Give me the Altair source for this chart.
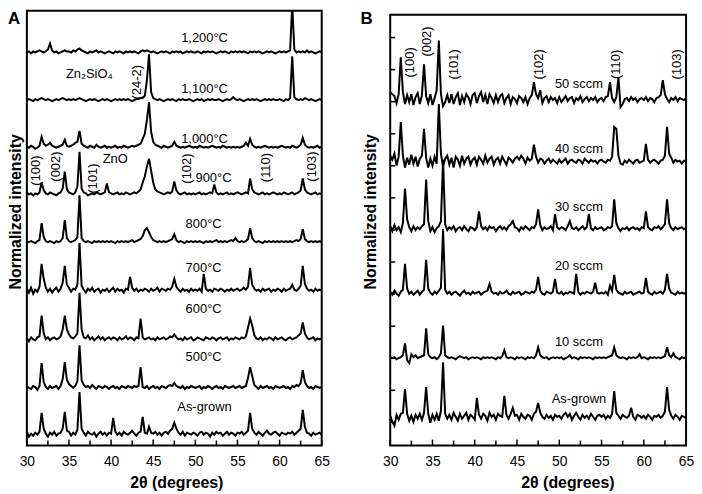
import altair as alt
import pandas as pd

FONT = "Liberation Sans"
H = 438           # plot height (px) = y-domain span
WA, WB = 297, 298  # plot widths

# 2-theta grid, 0.25 degree steps from 30 to 65
TWO_THETA = [30 + 0.25 * i for i in range(141)]

# ---------------- Panel A : annealing temperature ----------------
A_NAMES = ["1,200", "1,100", "1,000", "900", "800", "700", "600", "500", "As-grown"]
A_OFFSETS = [396, 348, 300, 253, 205, 156, 107, 58, 11]

A_1200 = [
    0, 1, -1, 1, 0, 1, 2, 1, 0, 1, 3, 9, 2, 0, 1, -1, 0, 1, 2, 1,
    1, 0, 2, 1, 3, 4, 2, 1, 0, -1, 1, 0, 1, 2, 0, 1, 0, -1, 0, 1,
    0, -1, 1, 0, 1, 0, -1, 1, 0, 1, 0, 1, 0, -1, 1, 2, 1, 2, 1, 0,
    1, 0, -1, 0, 1, 0, 1, 0, -1, 1, 0, 1, 0, 1, -1, 0, 1, 0, 1, 0,
    0, 1, 0, -1, 1, 0, 1, 0, 1, 0, -1, 0, 1, 0, 1, 0, -1, 1, 0, 1,
    0, 1, 0, 1, 0, -1, 1, 0, 1, 0, 1, 0, -1, 0, 1, 0, 1, 0, -1, 0,
    1, 0, 1, 0, 1, 2, 48, 3, 0, 1, 0, 1, 0, 2, 0, 1, 0, -1, 0, 1,
    0]
A_1100 = [
    0, 1, 0, -1, 1, 0, 1, 2, 1, 0, 1, 0, -1, 0, 1, 0, 1, 2, 1, 0,
    1, 0, 1, 0, 1, 2, 1, 0, -1, 0, 1, 0, 1, 0, -1, 0, 1, 0, 1, 0,
    -1, 0, 1, 0, 1, 0, 1, 0, 1, 0, -1, 0, 1, 1, 2, 2, 4, 20, 46, 8,
    2, 1, 0, 1, 0, -1, 0, 1, 0, 1, 0, -1, 1, 0, 1, 0, 0, 1, 0, -1,
    0, 1, 0, 1, -1, 0, 1, 0, 1, 0, 0, 1, 0, -1, 0, 1, 0, 1, 3, 1,
    0, 1, 0, -1, 0, 1, 0, 1, 0, 1, 0, -1, 0, 1, 0, 1, 0, 1, 0, 0,
    1, 0, -1, 1, 0, 2, 44, 3, 1, 0, 1, 0, 2, 1, 0, 1, 0, -1, 0, 1,
    0]
A_1000 = [
    1, 0, 2, 1, -1, 0, 2, 11, 4, 2, 3, 5, 2, 1, 0, 1, 2, 3, 8, 2,
    1, 2, 3, 5, 6, 17, 4, 2, 1, 0, 2, 1, 0, 3, 1, 0, 1, 2, 0, 1,
    0, 1, 2, 0, 1, 0, 2, 1, 0, 1, 2, 1, 2, 3, 4, 9, 14, 28, 46, 16,
    6, 3, 2, 1, 0, 2, 1, 0, 1, 2, 6, 2, 1, 0, 1, 0, 1, 2, 1, 0,
    1, 0, 2, 1, 0, 1, 0, 1, 2, 1, 0, 1, 0, 2, 1, 0, 1, 0, 1, 0,
    1, 0, 1, 2, 5, 2, 9, 3, 1, 0, 1, 0, 1, 2, 1, 0, 1, 0, 1, 0,
    1, 2, 1, 0, 1, 0, 2, 1, 0, 1, 3, 10, 3, 1, 0, 1, 0, 1, 2, 0,
    1]
A_900 = [
    2, 0, 1, -1, 1, 0, 2, 12, 4, 1, 0, 2, 1, 0, -1, 1, 2, 6, 23, 5,
    2, 1, 0, 2, 8, 43, 6, 2, 1, -1, 0, 1, 0, 2, 1, 0, 1, 2, 11, 2,
    1, 0, 1, 2, 0, 1, 0, 2, 1, 0, 1, 2, 1, 3, 5, 12, 18, 28, 36, 24,
    12, 5, 3, 2, 1, 0, 1, 2, 1, 3, 13, 4, 1, 0, 1, 2, 0, 1, 0, 1,
    0, 1, 2, 0, 1, 0, 1, 2, 1, 10, 2, 0, 1, 0, 1, 2, 0, 1, 0, 1,
    2, 1, 0, 1, 2, 1, 16, 5, 2, 1, 0, 1, 2, 0, 1, 0, 1, 2, 1, 0,
    1, 0, 2, 1, 0, 1, 2, 0, 1, 2, 4, 16, 5, 2, 1, 0, 1, 2, 0, 1,
    0]
A_800 = [
    1, 0, 1, 0, -1, 1, 2, 19, 5, 1, 0, 1, 0, -1, 1, 0, 1, 4, 22, 4,
    1, 0, 1, 2, 5, 47, 4, 1, 0, 1, 0, -1, 1, 0, 1, 0, 1, 0, 1, 0,
    1, 0, -1, 1, 0, 1, 0, 1, 0, 1, 2, 0, 1, 2, 3, 6, 12, 14, 10, 5,
    2, 1, 0, 1, 0, 1, 0, 1, 2, 3, 8, 2, 0, 1, 0, -1, 1, 0, 1, 0,
    1, 0, 1, 0, -1, 1, 0, 1, 0, 1, 2, 0, 1, 0, 1, 0, 1, 2, 1, 4,
    1, 0, 1, 0, 1, 3, 14, 4, 1, 0, 1, 0, -1, 1, 0, 1, 0, 1, 0, 1,
    0, 1, 0, 1, 0, 1, 0, 1, 2, 1, 3, 13, 3, 1, 0, 1, 0, 1, 0, 1,
    0]
A_700 = [
    2, -2, 3, -3, 1, -1, 4, 27, 12, 3, -1, 2, -2, 1, 3, -1, 2, 8, 25, 6,
    3, -1, 2, 1, 6, 48, 5, 1, -2, 2, 0, 3, -1, 1, 2, -2, 1, 0, 2, -1,
    1, 3, -1, 2, 0, 1, -2, 2, 1, 14, 3, 0, 2, -1, 1, 0, 2, 1, -1, 2,
    0, 1, 3, -1, 2, 1, 0, 2, 1, 4, 12, 4, 1, -1, 2, 0, 1, -1, 2, 0,
    1, 0, 2, -1, 17, 2, 0, 1, -1, 2, 1, 0, 2, 1, -1, 1, 0, 2, 0, 1,
    2, 0, 1, 3, 1, 4, 23, 6, 2, 0, 1, -1, 2, 0, 1, 2, -1, 1, 0, 2,
    1, -1, 2, 0, 1, 2, 6, 1, 0, 2, 5, 25, 7, 2, 0, 1, -1, 2, 0, 1,
    0]
A_600 = [
    1, -2, 2, 0, -1, 2, 3, 24, 6, 0, 2, -1, 1, 2, 0, 1, 3, 10, 24, 10,
    5, 2, 1, 3, 6, 47, 10, 2, 1, 4, 0, 2, -1, 1, 3, 0, 2, -1, 1, 2,
    0, 2, 1, -1, 2, 0, 1, 3, 0, 2, 1, -1, 2, 1, 21, 2, 0, 1, 2, 0,
    1, -1, 2, 0, 1, 2, 0, 1, 3, 2, 5, 2, 0, 1, -1, 2, 0, 1, 2, -1,
    0, 2, 1, 0, -1, 2, 1, 0, 2, 1, -1, 1, 2, 0, 1, 2, -1, 1, 0, 2,
    1, 0, 2, 1, 3, 12, 21, 14, 4, 1, 0, 2, -1, 1, 0, 2, 1, -1, 2, 0,
    1, 2, 0, -1, 1, 2, 0, 1, 2, 4, 6, 17, 6, 2, 0, 1, 2, -1, 1, 0,
    1]
A_500 = [
    2, 0, -1, 2, 1, -2, 2, 25, 6, 1, -1, 2, 0, 1, 2, -1, 2, 9, 26, 8,
    4, 2, 0, 2, 7, 43, 8, 3, 1, 2, 0, 3, 1, -1, 2, 1, 0, 2, 1, -1,
    1, 2, 0, 1, -1, 2, 1, 0, 2, 1, 0, 2, 1, 2, 21, 1, 0, 2, -1, 1,
    2, 0, 1, -1, 2, 1, 0, 2, 3, 2, 5, 2, 1, 0, 2, -1, 1, 0, 2, 1,
    0, 1, 2, -1, 1, 0, 2, 1, -1, 1, 2, 0, 1, -1, 2, 1, 0, 1, 2, 0,
    1, 2, 0, 1, 2, 10, 21, 12, 3, 1, -1, 2, 0, 1, 2, 0, 1, -1, 2, 1,
    0, 1, 2, 0, 1, -1, 2, 1, 3, 2, 5, 18, 6, 2, 0, 1, -1, 2, 1, 0,
    1]
A_ASGROWN = [
    3, -2, 1, -1, 2, 0, 3, 22, 6, 1, -2, 2, 0, 3, -1, 1, 2, 6, 23, 4,
    3, -1, 2, 0, 5, 43, 6, 2, -1, 3, 1, 0, 2, -2, 1, 3, 0, 2, -1, 2,
    1, 17, 3, 0, 2, -1, 3, 1, 0, 2, 4, 1, -1, 2, 3, 18, 2, 1, 8, 2,
    1, 3, 0, 2, -1, 2, 3, 1, 4, 6, 12, 6, 2, 0, 3, -1, 2, 1, 0, 2,
    1, -1, 2, 3, 0, 2, 1, -2, 2, 0, 3, 1, 2, -1, 1, 3, 0, 2, 1, -1,
    2, 1, 3, 0, 2, 4, 22, 6, 2, 0, 3, 1, -1, 2, 4, 1, 0, 2, 3, 1,
    -1, 2, 1, 0, 2, 1, 3, 0, 2, 4, 6, 25, 8, 2, 1, -1, 2, 0, 1, 2,
    0]
A_TRACES = [A_1200, A_1100, A_1000, A_900, A_800, A_700, A_600, A_500, A_ASGROWN]

# ---------------- Panel B : gas flow ----------------
B_NAMES = ["50 sccm", "40 sccm", "30 sccm", "20 sccm", "10 sccm", "As-grown"]
B_OFFSETS = [348, 286, 218, 153, 88, 28]

B_50 = [
    8, 6, 4, -3, 6, 43, 8, -4, 5, -2, 6, -5, 3, 7, -4, 5, 36, 4, -3, 6,
    -5, 2, 10, 60, 6, -6, -2, 5, -3, 6, -4, 3, 7, -5, 4, -2, 6, 3, -4, 5,
    7, -3, 4, 8, -2, 5, -4, 6, 2, -3, 5, -2, 4, 6, -3, 2, 5, -4, 3, 1,
    -3, 4, 2, -2, 3, -4, 2, 5, 18, 6, 2, 10, -3, 2, 4, -2, 3, 0, 2, -3,
    3, -2, 1, 4, -1, 2, 3, -3, 2, 0, 4, -2, 1, 3, -1, 2, 0, 3, -2, 1,
    2, -1, 3, 4, 18, 2, -2, 3, 23, -7, -4, 1, 2, -1, 3, 0, 2, -2, 1, 2,
    0, 3, -1, 2, 1, -2, 2, 3, 5, 20, 6, 1, -2, 2, 0, 3, -1, 2, 1, 0,
    2]
B_40 = [
    6, 2, 8, -4, 5, 40, 6, -6, 4, -3, 7, -2, 5, -5, 3, 6, 33, 4, -6, 3,
    -4, 5, -2, 58, 8, -5, 3, 6, -3, 4, -6, 5, 2, -4, 6, -2, 3, 5, -3, 2,
    4, -3, 5, 2, -2, 6, -1, 3, 5, -3, 2, 4, -2, 5, 1, -3, 4, 2, -1, 3,
    5, 2, 6, 3, -2, 4, 1, 3, 17, 5, -1, 3, 2, -2, 1, 3, -1, 2, 0, -2,
    2, -1, 1, 3, -2, 1, 2, 0, -1, 2, 1, -2, 3, 1, -1, 2, 0, 1, -2, 1,
    2, 0, -1, 2, 1, 5, 35, 33, 6, -2, -3, 1, -1, 2, 0, -2, 1, 2, -1, 0,
    1, 18, 2, -1, 1, 2, 0, -2, 1, 2, 6, 35, 8, 4, -1, 2, 0, 1, -2, 1,
    0]
B_30 = [
    3, -2, 4, -1, 2, -3, 6, 41, 10, 2, -2, 3, -1, 2, 0, 3, 5, 50, 8, -2,
    2, -3, 1, 3, 8, 70, 5, -1, 2, 0, 3, -2, 1, 2, -1, 3, 0, -2, 2, 1,
    -1, 2, 18, 3, 0, 2, -1, 3, 1, 2, -2, 1, 3, 0, 2, -1, 3, 5, 8, 2,
    1, -2, 2, 0, 3, 1, -1, 2, 1, 5, 20, 4, -1, 2, 0, 1, 3, -1, 15, 2,
    0, 2, 1, -1, 3, 8, 1, 0, 2, -1, 1, 3, 0, 2, 15, 1, -1, 2, 0, 1,
    2, -1, 0, 2, 1, 3, 30, 6, 1, -2, 1, 0, 2, -1, 1, 2, 0, 1, -1, 2,
    1, 18, 2, 0, -1, 2, 1, 3, 0, 2, 5, 30, 6, 1, -1, 2, 0, 1, 2, 0,
    1]
B_20 = [
    2, -1, 3, 0, -2, 2, 4, 30, 5, 0, 2, -1, 1, 3, -1, 2, 4, 34, 5, 1,
    -1, 2, 0, 3, 6, 65, 4, 0, 2, -1, 1, 2, 0, -2, 1, 3, 0, 1, -1, 2,
    0, 1, 2, -1, 1, 2, 3, 10, 2, 0, 1, -1, 2, 0, 1, 3, 0, -1, 2, 0,
    1, 2, -1, 0, 2, 1, 0, 2, 1, 4, 17, 3, 0, -1, 2, 1, 0, 2, 15, 1,
    0, 2, -1, 1, 0, 2, 1, 0, 20, 2, -1, 1, 0, 2, 1, 0, 2, 11, 1, 0,
    1, 0, 2, -1, 8, 3, 19, 4, 1, 0, -1, 2, 0, 1, 2, -1, 0, 1, 2, 0,
    1, 16, 2, 0, -1, 2, 0, 1, 2, 0, 4, 20, 5, 1, 0, -1, 2, 0, 1, 0,
    1]
B_10 = [
    1, 0, 1, -1, 0, 1, 3, 15, -2, -5, 4, 1, 3, 0, 1, 2, 3, 30, 4, 1,
    0, 1, -1, 1, 5, 33, 3, 1, 0, 1, 0, -1, 1, 2, 1, 0, 1, -1, 0, 1,
    0, 1, 0, -1, 1, 0, 1, 0, 1, 0, -1, 1, 0, 2, 8, 1, 0, 1, 0, -1,
    1, 0, 1, 0, -1, 1, 0, 1, 0, 3, 11, 3, 1, 0, 1, -1, 0, 1, 0, 1,
    0, 1, -1, 0, 1, 3, 0, 1, 0, -1, 1, 0, 1, 0, 1, 0, -1, 1, 0, 1,
    0, 1, 0, 1, 2, 3, 11, 3, 1, 0, 1, 0, -1, 1, 0, 1, 0, 1, 4, 0,
    1, 0, -1, 1, 0, 1, 0, 1, 0, 1, 2, 11, 3, 1, 5, 1, 0, -1, 1, 0,
    1]
B_ASGROWN = [
    2, -4, -8, 3, -2, 4, 5, 29, 4, -3, 2, -4, 3, -1, 4, -2, 5, 31, 4, -5,
    3, -2, 4, -3, 7, 56, 4, -1, 3, -2, 5, 1, -3, 4, -1, 2, 5, -2, 3, 1,
    -2, 20, 3, -1, 4, 2, -3, 5, 1, 3, -2, 4, 2, 1, 22, 3, -1, 4, 10, 2,
    3, -2, 4, 1, -1, 3, 2, -2, 4, 6, 15, 5, 1, -1, 3, 0, 2, -2, 3, 1,
    2, -1, 3, 5, 1, 4, -2, 2, 5, 1, -2, 3, 0, 2, -1, 4, 1, -2, 2, 3,
    1, 3, -1, 2, 0, 4, 27, 5, 2, -1, 3, 1, 0, 2, 10, 1, -2, 3, 2, 0,
    2, -1, 3, 1, -2, 2, 1, 3, 0, 2, 6, 31, 8, 2, -1, 3, 1, -2, 2, 1,
    0]
B_TRACES = [B_50, B_40, B_30, B_20, B_10, B_ASGROWN]

# ---------------- annotations ----------------
A_TEXT = ["1,200°C", "1,100°C", "1,000°C", "900°C", "800°C", "700°C",
          "600°C", "500°C", "As-grown", "Zn₂SiO₄", "ZnO"]
A_TEXT_X = [51.09, 51.09, 51.09, 52.15, 50.98, 50.98, 50.98, 50.98, 51.09, 37.42, 40.49]
A_TEXT_Y = [411, 359, 309, 270, 223, 179, 138, 89, 39, 374, 289]
A_HKL = ["(24-2)", "(100)", "(002)", "(101)", "(102)", "(110)", "(103)"]
A_HKL_X = [43.08, 31.06, 33.42, 37.90, 48.97, 58.40, 63.82]
A_HKL_Y = [366, 277, 281, 269, 279, 280, 281]

B_TEXT = ["50 sccm", "40 sccm", "30 sccm", "20 sccm", "10 sccm", "As-grown"]
B_TEXT_X = [52.32, 52.32, 52.32, 52.32, 52.32, 52.32]
B_TEXT_Y = [364, 299, 240, 181, 104, 47]
B_HKL = ["(100)", "(002)", "(101)", "(102)", "(110)", "(103)"]
B_HKL_X = [32.35, 34.35, 37.52, 47.62, 56.66, 63.94]
B_HKL_Y = [386, 407, 384, 384, 384, 384]

X_MAJOR = [30, 35, 40, 45, 50, 55, 60, 65]
X_MINOR = [32.5, 37.5, 42.5, 47.5, 52.5, 57.5, 62.5]
B_YTICKS = [411, 378.7, 346.4, 314.1, 281.8, 249.5, 217.2, 184.9, 152.6, 120.3, 88, 55.7, 23.4]
X_TITLE = "2θ (degrees)"
Y_TITLE = "Normalized intensity"


def traces_df(names, offsets, traces):
    rows = []
    for name, off, vals in zip(names, offsets, traces):
        assert len(vals) == len(TWO_THETA), (name, len(vals))
        for x, v in zip(TWO_THETA, vals):
            rows.append({"trace": name, "x": x, "y": off + v})
    return pd.DataFrame(rows)


def panel(df, width, frame_top, letter, letter_dx, ytitle_pad, xtitle_x,
          texts, hkls, yticks=None):
    xs = alt.Scale(domain=[30, 65], nice=False, zero=False)
    ys = alt.Scale(domain=[0, H], nice=False, zero=False)
    xa = alt.Axis(
        values=X_MAJOR, format="d", labelFontSize=14, labelFont=FONT,
        labelColor="black", labelFlush=False, labelPadding=9, ticks=False,
        domain=False, grid=False, title="")
    ya = alt.Axis(
        labels=False, ticks=False, domain=False, grid=False,
        title=Y_TITLE, titleFont=FONT, titleFontSize=16,
        titleFontWeight="bold", titleColor="black", titlePadding=ytitle_pad,
        titleY=202)
    X = lambda f: alt.X(f, scale=xs, axis=xa, title="")
    Y = lambda f: alt.Y(f, scale=ys, axis=ya, title=Y_TITLE)

    lines = alt.Chart(df).mark_line(color="black", strokeWidth=2, clip=True).encode(
        x=X("x:Q"), y=Y("y:Q"), detail="trace:N")
    frame = alt.Chart(alt.Data(values=[{"f": 1}])).mark_rect(
        fillOpacity=0, stroke="black", strokeWidth=2).encode(
        x=alt.value(0), x2=alt.value(width), y=alt.value(frame_top), y2=alt.value(H))
    major = alt.Chart(pd.DataFrame({"x": X_MAJOR})).mark_rule(
        color="black", strokeWidth=1.5).encode(
        x=X("x:Q"), y=alt.value(H), y2=alt.value(H - 6))
    minor = alt.Chart(pd.DataFrame({"x": X_MINOR})).mark_rule(
        color="black", strokeWidth=1.5).encode(
        x=X("x:Q"), y=alt.value(H), y2=alt.value(H - 5))
    tdf = pd.DataFrame({"text": texts[0], "x": texts[1], "y": texts[2]})
    hdf = pd.DataFrame({"text": hkls[0], "x": hkls[1], "y": hkls[2]})
    txt = alt.Chart(tdf).mark_text(font=FONT, fontSize=13, color="black").encode(
        x=X("x:Q"), y=Y("y:Q"), text="text:N")
    hkl = alt.Chart(hdf).mark_text(font=FONT, fontSize=13, color="black", angle=270).encode(
        x=X("x:Q"), y=Y("y:Q"), text="text:N")
    let = alt.Chart(alt.Data(values=[{"t": letter}])).mark_text(
        font=FONT, fontSize=17, fontWeight="bold", color="black",
        align="left", baseline="top").encode(
        x=alt.value(letter_dx), y=alt.value(0), text="t:N")
    xt = alt.Chart(alt.Data(values=[{"t": X_TITLE}])).mark_text(
        font=FONT, fontSize=16, fontWeight="bold", color="black",
        align="center", baseline="middle").encode(
        x=alt.value(xtitle_x), y=alt.value(H + 38), text="t:N")
    layers = [lines, frame, major, minor, txt, hkl, let, xt]
    if yticks is not None:
        yt = alt.Chart(pd.DataFrame({"y": yticks})).mark_rule(
            color="black", strokeWidth=1.5).encode(
            y=Y("y:Q"), x=alt.value(0), x2=alt.value(5))
        layers.append(yt)
    return alt.layer(*layers).properties(width=width, height=H)


dfA = traces_df(A_NAMES, A_OFFSETS, A_TRACES)
dfB = traces_df(B_NAMES, B_OFFSETS, B_TRACES)

pA = panel(dfA, WA, 0, "A", -19, 3, 151,
           (A_TEXT, A_TEXT_X, A_TEXT_Y), (A_HKL, A_HKL_X, A_HKL_Y))
pB = panel(dfB, WB, 4, "B", -30, 12, 179,
           (B_TEXT, B_TEXT_X, B_TEXT_Y), (B_HKL, B_HKL_X, B_HKL_Y), yticks=B_YTICKS)

chart = alt.hconcat(pA, pB, spacing=69, bounds="flush").configure_view(
    stroke=None).properties(padding=0, background="white")

chart.save("out.html", embed_options={"renderer": "svg", "actions": False})
